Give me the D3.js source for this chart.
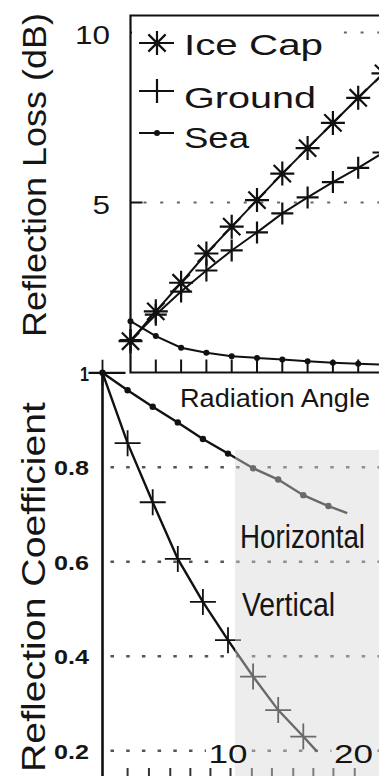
<!DOCTYPE html>
<html>
<head>
<meta charset="utf-8">
<script src="https://cdn.jsdelivr.net/npm/d3@7/dist/d3.min.js"></script>
<style>
  html, body { margin: 0; padding: 0; background: #fff; }
  svg { display: block; }
  text { font-family: "Liberation Sans", Arial, Helvetica, sans-serif; fill: #151515; }
</style>
</head>
<body>
<svg id="chart" width="379" height="776"></svg>
<script>
// ---- Reflection loss vs radiation angle (upper panel) ----
const topAngles   = [0, 2, 4, 6, 8, 10, 12, 14, 16, 18, 20];
const iceCapLoss  = [0.92, 1.80, 2.64, 3.50, 4.29, 5.07, 5.85, 6.60, 7.34, 8.08, 8.80];
const groundLoss  = [0.95, 1.70, 2.38, 3.00, 3.59, 4.12, 4.68, 5.15, 5.60, 6.02, 6.47];
const seaLoss     = [1.51, 1.07, 0.73, 0.58, 0.48, 0.43, 0.38, 0.33, 0.29, 0.26, 0.23];
const topYTicks   = [5, 10];
const topXTicks   = [2, 4, 6, 8, 10, 12, 14, 16, 18];
const legendNames = ["Ice Cap", "Ground", "Sea"];

// ---- Reflection coefficient vs radiation angle (lower panel) ----
const horizAngles = [0, 2, 4, 6, 8, 10, 12, 14, 16, 18, 19.5];
const horizCoef   = [1.0, 0.963, 0.928, 0.895, 0.860, 0.829, 0.798, 0.774, 0.741, 0.718, 0.703];
const vertAngles  = [0, 2, 4, 6, 8, 10, 12, 14, 16, 17.1];
const vertCoef    = [1.0, 0.851, 0.726, 0.606, 0.515, 0.434, 0.357, 0.286, 0.230, 0.198];
const bottomYTicks  = [1, 0.8, 0.6, 0.4, 0.2];
const bottomYLabels = ["1", "0.8", "0.6", "0.4", "0.2"];
const bottomXLabels = [10, 20];
const bottomXTicks  = [2.0, 3.7, 5.4, 7.0, 8.6, 10.2, 11.9, 13.5, 15.2, 16.8, 18.4, 20.1];

const svg = d3.select("#chart");
const W = 379, H = 776;
svg.append("rect").attr("width", W).attr("height", H).attr("fill", "#fff");

// ================= upper panel =================
const tx = d3.scaleLinear().domain([0, 20]).range([130.5, 383.5]);
const ty = d3.scaleLinear().domain([0, 10.5]).range([372.5, 15.5]);
const upper = svg.append("g");

// dotted gridlines
upper.selectAll("line.grid").data(topYTicks).join("line")
  .attr("x1", tx(0) + 13).attr("x2", W)
  .attr("y1", d => ty(d)).attr("y2", d => ty(d))
  .attr("stroke", "#666").attr("stroke-width", 2.2)
  .attr("stroke-dasharray", "3,13.7");

// inward y ticks
upper.selectAll("line.yt").data(topYTicks).join("line")
  .attr("x1", tx(0)).attr("x2", tx(0) + 12)
  .attr("y1", d => ty(d)).attr("y2", d => ty(d))
  .attr("stroke", "#111").attr("stroke-width", 2);

// inward x ticks
upper.selectAll("line.xt").data(topXTicks).join("line")
  .attr("x1", d => tx(d)).attr("x2", d => tx(d))
  .attr("y1", ty(0)).attr("y2", ty(0) - 13)
  .attr("stroke", "#111").attr("stroke-width", 2);

const topLine = d3.line().x((d, i) => tx(topAngles[i])).y(d => ty(d));

function asterisk(r) {
  const d = r * 0.72;
  return `M${-r},0H${r}M0,${-r}V${r}M${-d},${-d}L${d},${d}M${-d},${d}L${d},${-d}`;
}
function plus(r) { return `M${-r},0H${r}M0,${-r}V${r}`; }

const seriesTop = [
  { name: legendNames[0], values: iceCapLoss, marker: "asterisk" },
  { name: legendNames[1], values: groundLoss, marker: "plus" },
  { name: legendNames[2], values: seaLoss,    marker: "dot" }
];

// legend background: hides the 10 dB gridline behind the entries
upper.append("rect").attr("x", tx(0) + 1.5).attr("y", 16.5)
  .attr("width", 200).attr("height", 40).attr("fill", "#fff");

seriesTop.forEach(s => {
  upper.append("path").datum(s.values)
    .attr("d", topLine).attr("fill", "none")
    .attr("stroke", "#111").attr("stroke-width", 2);
  const g = upper.append("g");
  if (s.marker === "dot") {
    g.selectAll("circle").data(s.values).join("circle")
      .attr("cx", (d, i) => tx(topAngles[i])).attr("cy", d => ty(d))
      .attr("r", 3).attr("fill", "#111");
  } else {
    g.selectAll("path").data(s.values).join("path")
      .attr("transform", (d, i) => `translate(${tx(topAngles[i])},${ty(d)})`)
      .attr("d", s.marker === "asterisk" ? asterisk(12) : plus(11))
      .attr("fill", "none").attr("stroke", "#111").attr("stroke-width", 2.2);
  }
});

const legY = [43, 91, 133], legText = [55, 108, 148], legLen = [139, 132, 65];
seriesTop.forEach((s, i) => {
  upper.append("line").attr("x1", 139).attr("x2", 174)
    .attr("y1", legY[i]).attr("y2", legY[i])
    .attr("stroke", "#111").attr("stroke-width", 2);
  if (s.marker === "dot") {
    upper.append("circle").attr("cx", 157).attr("cy", legY[i]).attr("r", 3).attr("fill", "#111");
  } else {
    upper.append("path").attr("transform", `translate(157,${legY[i]})`)
      .attr("d", s.marker === "asterisk" ? asterisk(12) : plus(12))
      .attr("fill", "none").attr("stroke", "#111").attr("stroke-width", 2.2);
  }
  upper.append("text").attr("x", 184).attr("y", legText[i])
    .attr("font-size", 30).attr("textLength", legLen[i])
    .attr("lengthAdjust", "spacingAndGlyphs").text(s.name);
});

// frame: left axis, top border, bottom axis
upper.append("path")
  .attr("d", `M${W},${ty(10.5)}H${tx(0)}V${ty(0)}H${W}`)
  .attr("fill", "none").attr("stroke", "#111").attr("stroke-width", 2.2);

// y tick labels
upper.selectAll("text.yl").data(topYTicks).join("text")
  .attr("x", 110).attr("y", d => ty(d) + 11)
  .attr("text-anchor", "end").attr("font-size", 26)
  .attr("textLength", d => String(d).length * 17.5).attr("lengthAdjust", "spacingAndGlyphs")
  .text(d => d);

// y axis title
upper.append("text")
  .attr("transform", "translate(46,175) rotate(-90)")
  .attr("text-anchor", "middle").attr("font-size", 34)
  .attr("textLength", 324).attr("lengthAdjust", "spacingAndGlyphs")
  .text("Reflection Loss (dB)");

// x axis title
upper.append("text").attr("x", 180).attr("y", 407)
  .attr("font-size", 25).attr("textLength", 190).attr("lengthAdjust", "spacingAndGlyphs")
  .text("Radiation Angle");

// ================= lower panel =================
const bx = d3.scaleLinear().domain([0, 20]).range([102.5, 353.5]);
const by = d3.scaleLinear().domain([0, 1]).range([845.2, 372.8]);
const lower = svg.append("g");

// dotted gridlines
lower.selectAll("line.grid").data(bottomYTicks.filter(d => d < 1)).join("line")
  .attr("x1", bx(0) + 8).attr("x2", W)
  .attr("y1", d => by(d)).attr("y2", d => by(d))
  .attr("stroke", "#555").attr("stroke-width", 2.4)
  .attr("stroke-dasharray", "3.5,12.2");

// white backing behind the in-plot x labels
lower.selectAll("rect.xlbg").data(bottomXLabels).join("rect")
  .attr("x", d => bx(d) - 22).attr("y", by(0.2) - 8)
  .attr("width", 44).attr("height", 18).attr("fill", "#fff");

// x ticks along the bottom edge
lower.selectAll("line.xt").data(bottomXTicks).join("line")
  .attr("x1", d => bx(d)).attr("x2", d => bx(d))
  .attr("y1", 768).attr("y2", H)
  .attr("stroke", "#333").attr("stroke-width", 2);

const bLine = (angles) => d3.line().x((d, i) => bx(angles[i])).y(d => by(d));

// Horizontal polarisation curve
lower.append("path").datum(horizCoef).attr("d", bLine(horizAngles))
  .attr("fill", "none").attr("stroke", "#111").attr("stroke-width", 2.4);
lower.selectAll("circle.h").data(horizCoef.filter((d, i) => horizAngles[i] % 2 === 0)).join("circle")
  .attr("cx", (d, i) => bx(horizAngles[i])).attr("cy", d => by(d))
  .attr("r", 3.2).attr("fill", "#111");

// Vertical polarisation curve
lower.append("path").datum(vertCoef).attr("d", bLine(vertAngles))
  .attr("fill", "none").attr("stroke", "#111").attr("stroke-width", 2.4);
lower.selectAll("path.v").data(vertCoef.filter((d, i) => vertAngles[i] % 2 === 0)).join("path")
  .attr("transform", (d, i) => `translate(${bx(vertAngles[i])},${by(d)})`)
  .attr("d", plus(13)).attr("fill", "none")
  .attr("stroke", "#111").attr("stroke-width", 1.8);

// y axis line and top tick
lower.append("line").attr("x1", bx(0)).attr("x2", bx(0))
  .attr("y1", by(1)).attr("y2", H)
  .attr("stroke", "#111").attr("stroke-width", 2.6);
lower.append("line").attr("x1", bx(0) - 14).attr("x2", bx(0) + 23)
  .attr("y1", by(1)).attr("y2", by(1))
  .attr("stroke", "#111").attr("stroke-width", 2.2);

// translucent panel over the right side
lower.append("rect").attr("x", 235).attr("y", 450)
  .attr("width", W - 235).attr("height", H - 450)
  .attr("fill", "#d8d8d8").attr("fill-opacity", 0.45);

// curve labels (tall, narrow lettering)
lower.append("text").attr("transform", "translate(240,548) scale(1,1.2)")
  .attr("font-size", 28).attr("textLength", 125).attr("lengthAdjust", "spacingAndGlyphs")
  .attr("fill", "#222").text("Horizontal");
lower.append("text").attr("transform", "translate(242,616) scale(1,1.2)")
  .attr("font-size", 28).attr("textLength", 93).attr("lengthAdjust", "spacingAndGlyphs")
  .attr("fill", "#222").text("Vertical");

// y tick labels
lower.selectAll("text.yl").data(bottomYTicks).join("text")
  .attr("x", 89).attr("y", d => by(d) + 8)
  .attr("text-anchor", "end").attr("font-size", 21).attr("font-weight", "bold")
  .attr("textLength", (d, i) => bottomYLabels[i].length === 1 ? 9 : 35)
  .attr("lengthAdjust", "spacingAndGlyphs")
  .text((d, i) => bottomYLabels[i]);

// x labels sitting on the lowest gridline
lower.selectAll("text.xl").data(bottomXLabels).join("text")
  .attr("x", d => bx(d)).attr("y", by(0.2) + 12)
  .attr("text-anchor", "middle").attr("font-size", 25)
  .attr("textLength", 39).attr("lengthAdjust", "spacingAndGlyphs")
  .text(d => d);

// y axis title
lower.append("text")
  .attr("transform", "translate(45,587) rotate(-90)")
  .attr("text-anchor", "middle").attr("font-size", 33)
  .attr("textLength", 370).attr("lengthAdjust", "spacingAndGlyphs")
  .text("Reflection Coefficient");
</script>
</body>
</html>
